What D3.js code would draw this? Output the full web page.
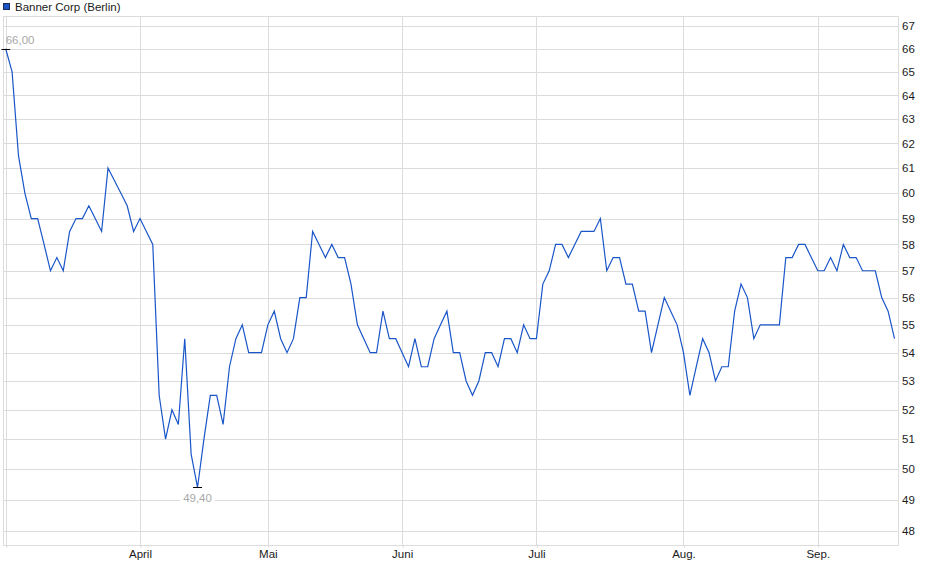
<!DOCTYPE html>
<html>
<head>
<meta charset="utf-8">
<script src="https://cdn.jsdelivr.net/npm/d3@7"></script>
<style>
  html, body { margin: 0; padding: 0; background: #fff; }
  svg { display: block; font-family: "Liberation Sans", Arial, sans-serif; }
</style>
</head>
<body>
<svg id="chart" width="940" height="579"></svg>
<script>
// ---- data ----
const seriesName = "Banner Corp (Berlin)";
const prices = [
  66, 65, 61.5, 60, 59, 59, 58, 57, 57.5, 57,
  58.5, 59, 59, 59.5, 59, 58.5, 61, 60.5, 60, 59.5,
  58.5, 59, 58.5, 58, 52.5, 51, 52, 51.5, 54.5, 50.5,
  49.4, 51, 52.5, 52.5, 51.5, 53.5, 54.5, 55, 54, 54,
  54, 55, 55.5, 54.5, 54, 54.5, 56, 56, 58.5, 58,
  57.5, 58, 57.5, 57.5, 56.5, 55, 54.5, 54, 54, 55.5,
  54.5, 54.5, 54, 53.5, 54.5, 53.5, 53.5, 54.5, 55, 55.5,
  54, 54, 53, 52.5, 53, 54, 54, 53.5, 54.5, 54.5,
  54, 55, 54.5, 54.5, 56.5, 57, 58, 58, 57.5, 58,
  58.5, 58.5, 58.5, 59, 57, 57.5, 57.5, 56.5, 56.5, 55.5,
  55.5, 54, 55, 56, 55.5, 55, 54, 52.5, 53.5, 54.5,
  54, 53, 53.5, 53.5, 55.5, 56.5, 56, 54.5, 55, 55,
  55, 55, 57.5, 57.5, 58, 58, 57.5, 57, 57, 57.5,
  57, 58, 57.5, 57.5, 57, 57, 57, 56, 55.5, 54.5
];
const monthTickIndex = [0, 21, 41, 62, 83, 106, 127];
const monthTickLabels = ["", "April", "Mai", "Juni", "Juli", "Aug.", "Sep."];
const yTickValues = [48,49,50,51,52,53,54,55,56,57,58,59,60,61,62,63,64,65,66,67];

// ---- layout ----
const svg = d3.select("#chart");
const plot = { left: 3, right: 898, top: 16, bottom: 545 };

const x = d3.scaleLinear().domain([0, prices.length - 1]).range([5.7, 894.5]);
const y = d3.scaleLog().domain([48, 67]).range([531, 26]);

const gridColor = "#dcdcdc";
const textColor = "#1a1a1a";
const fontSize = 11.5;

// horizontal grid
svg.append("g").selectAll("line").data(yTickValues).join("line")
  .attr("x1", plot.left).attr("x2", plot.right)
  .attr("y1", d => Math.round(y(d)) + 0.5).attr("y2", d => Math.round(y(d)) + 0.5)
  .attr("stroke", gridColor).attr("stroke-width", 1);

// vertical grid
svg.append("g").selectAll("line").data(monthTickIndex).join("line")
  .attr("x1", d => Math.round(x(d)) + 0.5).attr("x2", d => Math.round(x(d)) + 0.5)
  .attr("y1", plot.top).attr("y2", plot.bottom)
  .attr("stroke", gridColor).attr("stroke-width", 1);

// frame
svg.append("rect")
  .attr("x", plot.left + 0.5).attr("y", plot.top + 0.5)
  .attr("width", plot.right - plot.left).attr("height", plot.bottom - plot.top)
  .attr("fill", "none").attr("stroke", gridColor);

// right axis
const yAxis = d3.axisRight(y).tickValues(yTickValues).tickSize(0).tickPadding(4)
  .tickFormat(d3.format("d"));
const gy = svg.append("g").attr("transform", `translate(${plot.right},0)`).call(yAxis);
gy.select(".domain").remove();
gy.selectAll("text").attr("font-size", fontSize).attr("fill", textColor)
  .attr("font-family", "Liberation Sans, Arial, sans-serif");

// bottom axis
const xAxis = d3.axisBottom(x).tickValues(monthTickIndex).tickSize(3).tickPadding(2)
  .tickFormat((d, i) => monthTickLabels[i]);
const gx = svg.append("g").attr("transform", `translate(0,${plot.bottom})`).call(xAxis);
gx.select(".domain").remove();
gx.selectAll(".tick line").attr("stroke", gridColor)
  .attr("transform", "translate(0.5,0)");
gx.selectAll("text").attr("font-size", fontSize).attr("fill", textColor)
  .attr("font-family", "Liberation Sans, Arial, sans-serif");

// price line
const line = d3.line().x((d, i) => x(i)).y(d => y(d));
svg.append("path").datum(prices)
  .attr("d", line)
  .attr("fill", "none")
  .attr("stroke", "#1a56c8")
  .attr("stroke-width", 1.2)
  .attr("stroke-linejoin", "miter");

// high / low markers
const maxI = d3.maxIndex(prices), minI = d3.minIndex(prices);
const fmt = v => d3.format(".2f")(v).replace(".", ",");
[[maxI, "above"], [minI, "below"]].forEach(([i, pos]) => {
  const px = x(i), py = Math.round(y(prices[i])) + 0.5;
  const g = svg.append("g");
  g.append("line").attr("x1", Math.max(px - 4.5, 1.5)).attr("x2", px + 4.5)
    .attr("y1", py).attr("y2", py).attr("stroke", "#000").attr("stroke-width", 1);
  const bg = g.append("rect").attr("fill", "#fff");
  const t = g.append("text").text(fmt(prices[i]))
    .attr("font-size", fontSize).attr("fill", "#a8a8a8")
    .attr("dominant-baseline", "middle");
  if (pos === "above") {
    t.attr("x", px).attr("y", py - 9);
    bg.remove();
  } else {
    t.attr("x", px).attr("y", py + 11).attr("text-anchor", "middle");
    const bb = t.node().getBBox();
    bg.attr("x", bb.x - 3).attr("y", bb.y).attr("width", bb.width + 6).attr("height", bb.height);
  }
});

// legend
svg.append("rect").attr("x", 3.5).attr("y", 3.5).attr("width", 6).attr("height", 6)
  .attr("fill", "#1a56c8").attr("stroke", "#1a2a5a").attr("stroke-width", 1);
svg.append("text").attr("x", 15).attr("y", 10.5).text(seriesName)
  .attr("font-size", fontSize).attr("fill", textColor);
</script>
</body>
</html>
